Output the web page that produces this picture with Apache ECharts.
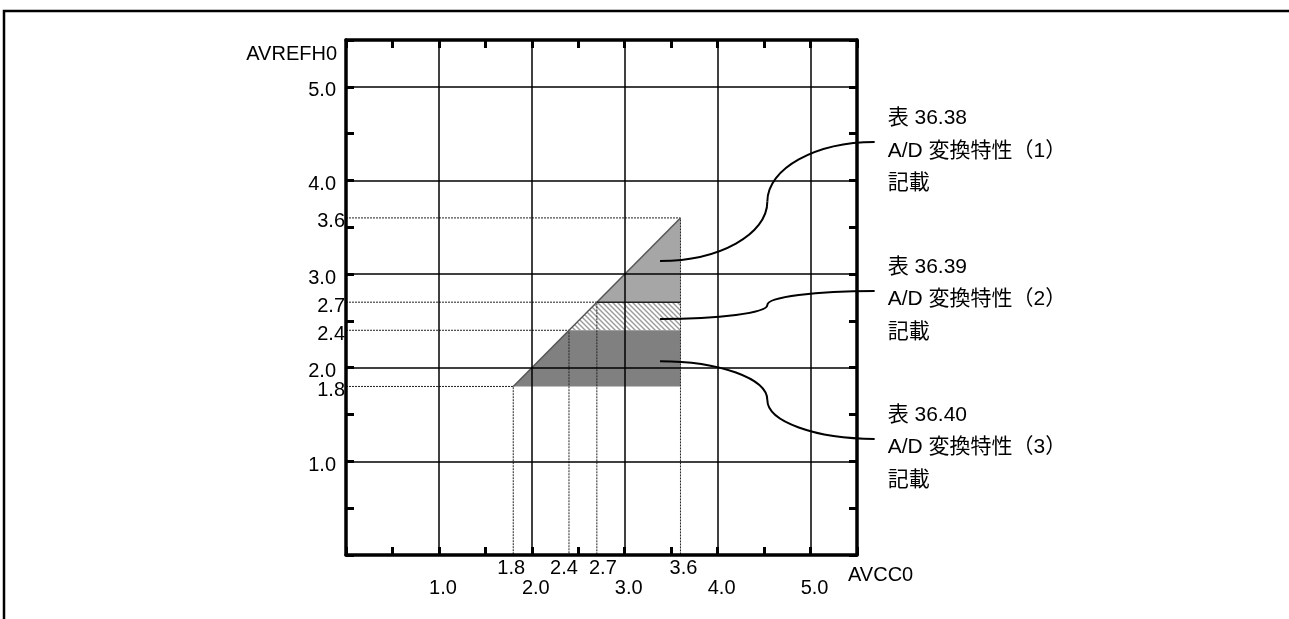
<!DOCTYPE html>
<html><head><meta charset="utf-8">
<script src="https://cdn.jsdelivr.net/npm/echarts@6/dist/echarts.min.js"></script>
<style>html,body{margin:0;padding:0;background:#fff}#chart{width:1289px;height:619px}</style>
</head><body><div id="chart"></div>
<script>
// ---- data ----
const axisMin = 0, axisMax = 5.5;
const majorTicks = [1, 2, 3, 4, 5];
const specialValues = [1.8, 2.4, 2.7, 3.6];
const xAxisName = 'AVCC0';
const yAxisName = 'AVREFH0';
const regionUpper = [[2.7, 2.7], [3.6, 3.6], [3.6, 2.7]];
const regionMiddle = [[2.4, 2.4], [2.7, 2.7], [3.6, 2.7], [3.6, 2.4]];
const regionLower = [[1.8, 1.8], [2.4, 2.4], [3.6, 2.4], [3.6, 1.8]];
const diagonalEdge = [[1.8, 1.8], [3.6, 3.6]];
const boundary27 = [[2.7, 2.7], [3.6, 2.7]];
const annotationTitles = ['表 36.38', '表 36.39', '表 36.40'];
const annotationTexts = ['A/D 変換特性（1）', 'A/D 変換特性（2）', 'A/D 変換特性（3）'];
const annotationNotes = ['記載', '記載', '記載'];
const leaderStarts = [[3.38, 3.14], [3.38, 2.52], [3.38, 2.07]];
const leaderEnds = [[5.69, 4.41], [5.69, 2.82], [5.69, 1.24]];

// ---- styling ----
const FONT = "'Liberation Sans', Arial, 'Noto Sans CJK JP', sans-serif";
const FS = 20;
const fmt = v => Number(v).toFixed(1);
// small horizontal nudges of the crowded special x labels (style only)
const xSpecialStyle = { 1.8: 'a', 2.4: 'b', 2.7: 'c', 3.6: 'd' };

function makeHatch() {
  const c = document.createElement('canvas');
  c.width = 5; c.height = 5;
  const g = c.getContext('2d');
  g.fillStyle = '#ffffff'; g.fillRect(0, 0, 5, 5);
  g.strokeStyle = '#9a9a9a'; g.lineWidth = 1.4;
  g.beginPath();
  g.moveTo(-1, -1); g.lineTo(6, 6);
  g.moveTo(-1, 4); g.lineTo(1, 6);
  g.moveTo(4, -1); g.lineTo(6, 1);
  g.stroke();
  return c;
}

function polygonSeries(points, fill, z) {
  return {
    type: 'custom', z: z, silent: true, clip: false,
    xAxisIndex: 0, yAxisIndex: 0,
    data: points,
    renderItem(params, api) {
      if (params.dataIndex !== 0) return;
      return { type: 'polygon', shape: { points: points.map(p => api.coord(p)) }, style: { fill: fill, stroke: 'none' } };
    }
  };
}

const guideSeries = specialValues.map(v => ({
  type: 'line', z: 2, silent: true, symbol: 'none', animation: false,
  data: [[axisMin, v], [v, v], [v, axisMin]],
  lineStyle: { color: '#222', width: 1, type: [2, 1] }
}));

const leaderData = leaderStarts.map((s, i) => [s[0], s[1], leaderEnds[i][0], leaderEnds[i][1]]);

const mkAxisLine = () => ({ show: true, onZero: false, lineStyle: { color: '#000', width: 3.5 } });
const hiddenLine = () => ({ show: false, onZero: false });
const mkTick = () => ({ show: true, inside: true, length: 8, lineStyle: { color: '#000', width: 3 } });
const labelBase = () => ({ color: '#000', fontSize: FS, fontFamily: FONT });
const solidSplit = () => ({ show: true, lineStyle: { color: '#000', width: 1.5 } });
const richBase = { color: '#000', fontSize: FS, fontFamily: FONT };

const option = {
  animation: false,
  backgroundColor: '#fff',
  grid: { left: 346, right: 432, top: 40, bottom: 64, containLabel: false, outerBoundsMode: 'none' },
  xAxis: [
    { type: 'value', min: axisMin, max: axisMax, interval: 1, position: 'bottom', z: 3,
      axisLine: hiddenLine(), axisTick: { show: false }, splitLine: solidSplit(),
      axisLabel: Object.assign({ customValues: majorTicks, formatter: fmt, margin: 23, padding: [0, 0, 0, 8] }, labelBase()),
      name: xAxisName, nameLocation: 'end', nameGap: -9,
      nameTextStyle: Object.assign({ align: 'left', verticalAlign: 'top', padding: [10, 0, 0, 0] }, labelBase()) },
    { type: 'value', min: axisMin, max: axisMax, interval: 0.5, position: 'bottom', z: 4,
      axisLine: mkAxisLine(), axisTick: mkTick(), splitLine: { show: false },
      axisLabel: Object.assign({ customValues: specialValues, margin: 3,
        formatter: v => '{' + (xSpecialStyle[v] || 'a') + '|' + fmt(v) + '}',
        rich: {
          a: Object.assign({ padding: [0, 4, 0, 0] }, richBase),
          b: Object.assign({ padding: [0, 10, 0, 0] }, richBase),
          c: Object.assign({ padding: [0, 0, 0, 12] }, richBase),
          d: Object.assign({ padding: [0, 0, 0, 6] }, richBase)
        } }, labelBase()) },
    { type: 'value', min: axisMin, max: axisMax, interval: 0.5, position: 'top', z: 4,
      axisLine: mkAxisLine(), axisTick: mkTick(), splitLine: { show: false }, axisLabel: { show: false } }
  ],
  yAxis: [
    { type: 'value', min: axisMin, max: axisMax, interval: 1, position: 'left', z: 3,
      axisLine: hiddenLine(), axisTick: { show: false }, splitLine: solidSplit(),
      axisLabel: Object.assign({ customValues: majorTicks, formatter: fmt, margin: 10, verticalAlign: 'top', lineHeight: 8 }, labelBase()),
      name: yAxisName, nameLocation: 'end', nameGap: -14,
      nameTextStyle: Object.assign({ align: 'right', verticalAlign: 'middle', padding: [0, 9, 0, 0] }, labelBase()) },
    { type: 'value', min: axisMin, max: axisMax, interval: 0.5, position: 'left', z: 4,
      axisLine: mkAxisLine(), axisTick: mkTick(), splitLine: { show: false },
      axisLabel: Object.assign({ customValues: specialValues, formatter: fmt, margin: 1, verticalAlign: 'top', lineHeight: 8 }, labelBase()) },
    { type: 'value', min: axisMin, max: axisMax, interval: 0.5, position: 'right', z: 4,
      axisLine: mkAxisLine(), axisTick: mkTick(), splitLine: { show: false }, axisLabel: { show: false } }
  ],
  series: [
    polygonSeries(regionUpper, '#a6a6a6', 1),
    polygonSeries(regionMiddle, { image: makeHatch(), repeat: 'repeat' }, 1),
    polygonSeries(regionLower, '#808080', 1),
    ...guideSeries,
    { type: 'line', z: 2, silent: true, symbol: 'none', data: diagonalEdge, lineStyle: { color: '#555', width: 1.5 } },
    { type: 'line', z: 2, silent: true, symbol: 'none', data: boundary27, lineStyle: { color: '#222', width: 1.5 } },
    {
      type: 'custom', z: 5, silent: true, clip: false, data: leaderData,
      renderItem(params, api) {
        const s = api.coord([api.value(0), api.value(1)]);
        const e = api.coord([api.value(2), api.value(3)]);
        const m = [(s[0] + e[0]) / 2, (s[1] + e[1]) / 2];
        const k = 0.5523;
        const i = params.dataIndex;
        const stroke = { stroke: '#000', lineWidth: 2, fill: 'none' };
        return {
          type: 'group', children: [
            { type: 'bezierCurve', shape: { x1: s[0], y1: s[1], cpx1: s[0] + k * (m[0] - s[0]), cpy1: s[1], cpx2: m[0], cpy2: m[1] + k * (s[1] - m[1]), x2: m[0], y2: m[1] }, style: stroke },
            { type: 'bezierCurve', shape: { x1: m[0], y1: m[1], cpx1: m[0], cpy1: m[1] + k * (e[1] - m[1]), cpx2: e[0] - k * (e[0] - m[0]), cpy2: e[1], x2: e[0], y2: e[1] }, style: stroke },
            { type: 'text', x: e[0] + 13, y: e[1] - 40,
              style: { text: [annotationTitles[i], annotationTexts[i], annotationNotes[i]].join('\n'),
                fontSize: 21, fontFamily: FONT, lineHeight: 32.5, fill: '#000', align: 'left', verticalAlign: 'top' } }
          ]
        };
      }
    }
  ],
  graphic: [
    { type: 'polyline', silent: true, shape: { points: [[4, 619], [4, 11], [1289, 11]] }, style: { stroke: '#000', lineWidth: 2.5, fill: 'none' } }
  ]
};

const chart = echarts.init(document.getElementById('chart'), null, { renderer: 'canvas' });
chart.setOption(option);
</script>
</body></html>
